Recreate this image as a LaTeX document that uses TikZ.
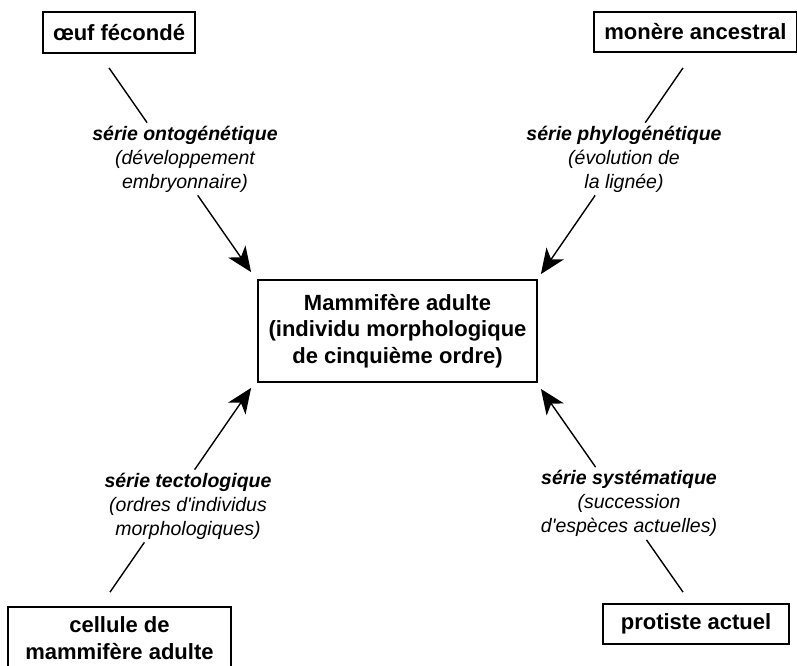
\documentclass[tikz,border=0pt]{standalone}
\usepackage{fontspec}
\setmainfont{Liberation Sans}
\usetikzlibrary{intersections,arrows.meta}

\tikzset{
  stage/.style={draw, line width=1.8pt, align=center, inner sep=0pt,
    font=\bfseries\fontsize{22}{26.5}\selectfont},
  serie/.style={align=center, inner xsep=2pt, inner ysep=3pt,
    font=\itshape\fontsize{19.5}{24}\selectfont},
  link/.style={line width=1.4pt},
  tip/.style={link, -{Stealth[length=25pt,width=21pt,inset=7pt]}}
}

\begin{document}
\begin{tikzpicture}[x=1pt,y=-1pt]
\useasboundingbox (0,0) rectangle (797,665);

% the five stages
\node[stage, minimum width=152pt, minimum height=41pt] (oeuf) at (119,32.5) {œuf fécondé};
\node[stage, minimum width=203pt, minimum height=40pt] (monere) at (695.5,32) {monère ancestral};
\node[stage, minimum width=279pt, minimum height=102pt] (mam) at (397.5,331) {Mammifère adulte\\(individu morphologique\\de cinquième ordre)};
\node[stage, minimum width=223pt, minimum height=62pt] (cellule) at (119.5,638) {cellule de\\mammifère adulte};
\node[stage, minimum width=186pt, minimum height=40pt] (protiste) at (696,624) {protiste actuel};

% the four series
\node[serie] (onto) at (185,159) {\textbf{série ontogénétique}\\(développement\\embryonnaire)};
\node[serie] (phylo) at (624,159) {\textbf{série phylogénétique}\\(évolution de\\la lignée)};
\node[serie] (tecto) at (188,506) {\textbf{série tectologique}\\(ordres d\textquotesingle individus\\morphologiques)};
\node[serie] (syst) at (629,503.5) {\textbf{série systématique}\\(succession\\d\textquotesingle espèces actuelles)};

\coordinate (oeuf-out) at ([shift={(-10,14)}]oeuf.south);
\coordinate (monere-out) at ([shift={(-12.5,15)}]monere.south);
\coordinate (cellule-out) at ([shift={(-9.5,-14)}]cellule.north);
\coordinate (protiste-out) at ([shift={(-13,-11)}]protiste.north);
\coordinate (mam-nw) at ([shift={(-6,-7)}]mam.north west);
\coordinate (mam-ne) at ([shift={(3,-5)}]mam.north east);
\coordinate (mam-sw) at ([shift={(-6,5)}]mam.south west);
\coordinate (mam-se) at ([shift={(3,6)}]mam.south east);

\foreach \a/\l/\b in {oeuf-out/onto/mam-nw, monere-out/phylo/mam-ne,
                      cellule-out/tecto/mam-sw, protiste-out/syst/mam-se} {
    \path[name path=ray] (\a) -- (\b);
    \path[name path=frame] (\l.north west) rectangle (\l.south east);
    \draw[link, name intersections={of=ray and frame, sort by=ray, by={p,q}}] (\a) -- (p);
    \draw[tip] (q) -- (\b);
}
\end{tikzpicture}
\end{document}
